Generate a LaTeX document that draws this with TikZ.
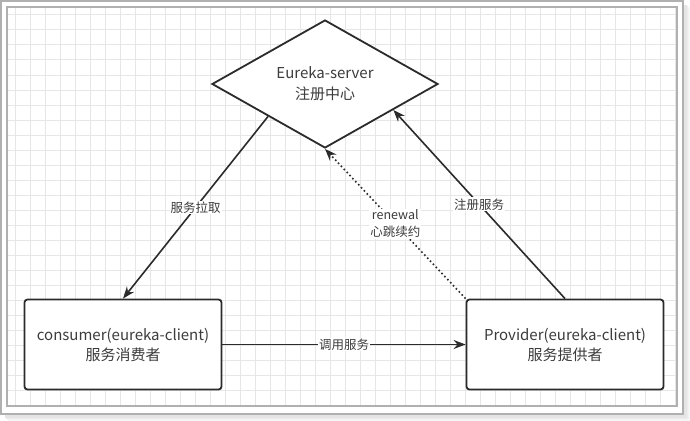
\documentclass[tikz,border=0pt]{standalone}
\usepackage{fontspec}
\setmainfont{Noto Sans CJK SC}
\usetikzlibrary{shapes.geometric, arrows.meta, positioning, calc}
\definecolor{framegray}{HTML}{B0B0B0}
\definecolor{gridgray}{HTML}{E6E6E6}
\definecolor{linedark}{HTML}{2B2B2B}
\definecolor{textgray}{HTML}{3C3C3C}

\begin{document}
\begin{tikzpicture}[
  x=1pt, y=-1pt,
  server/.style={
    diamond, aspect=1.77,
    minimum width=226pt, minimum height=128pt, inner sep=0pt,
    draw=linedark, line width=1.8pt, fill=white,
    align=center, text=textgray, font=\fontsize{15}{21}\selectfont
  },
  client/.style={
    rectangle, rounded corners=3pt,
    minimum width=197pt, minimum height=90pt,
    draw=linedark, line width=1.8pt, fill=white,
    align=center, text=textgray, font=\fontsize{15}{20}\selectfont
  },
  flow/.style={line width=1.6pt, linedark, -{Stealth[length=12pt,width=9pt]}},
  flowlabel/.style={fill=white, inner sep=1pt, align=center,
    text=textgray, font=\fontsize{12.5}{17}\selectfont}
]
  \useasboundingbox (0,0) rectangle (690,420);

  % Frame with shadow
  \foreach \d/\c in {7/3, 6/5, 5/7, 4/10}
    \fill[black!\c] (1+\d,1+\d) rectangle (683+\d,414+\d);
  \draw[framegray, line width=1.5pt, fill=white] (1,1) rectangle (683,414);
  \begin{scope}
    \clip (7,7) rectangle (677,406);
    \draw[gridgray, line width=1pt] (0,0) grid[step=15pt] (690,420);
  \end{scope}
  \draw[framegray, line width=1.5pt] (7,7) rectangle (677,406);

  % Nodes
  \node[server] (server) at (325,84) {Eureka-server\\注册中心};
  \node[client] (consumer) at (123,344.5) {consumer(eureka-client)\\服务消费者};
  \node[client] (provider) at (565,344.5) {Provider(eureka-client)\\服务提供者};

  % Connectors
  \draw[flow] (server.south west) -- node[flowlabel] {服务拉取} (consumer.north);
  \draw[flow] (provider.north) -- node[flowlabel] {注册服务}
    ($(server.south)!0.6!(server.east)$);
  \draw[flow, dash pattern=on 1.6pt off 2.6pt] (provider.north west)
    -- node[flowlabel] {renewal\\心跳续约} (server.south);
  \draw[flow] (consumer) -- node[flowlabel] {调用服务} (provider);
\end{tikzpicture}
\end{document}
